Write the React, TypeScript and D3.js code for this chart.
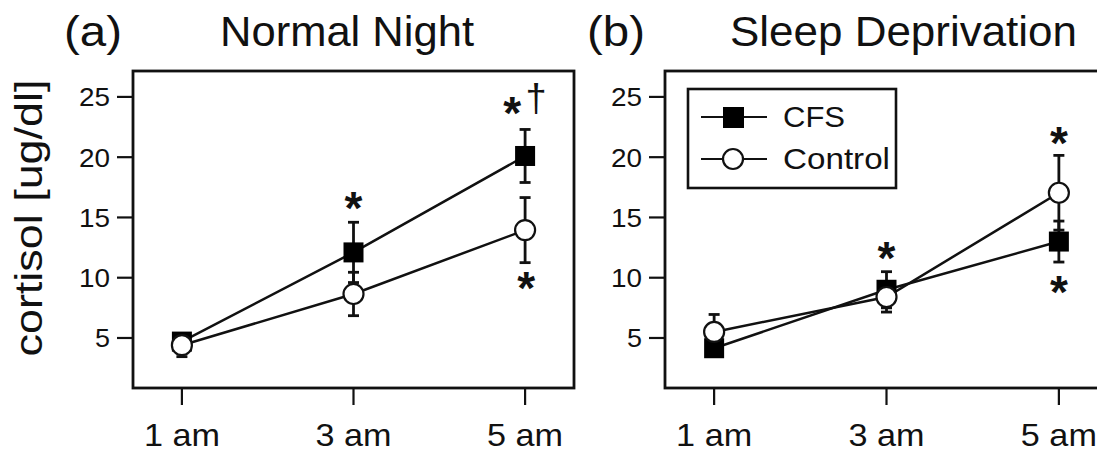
import * as d3 from "d3";
import React from "react";

// values (cortisol, ug/dl)
const hours = [1, 3, 5];
const hourLabels = ["1 am", "3 am", "5 am"];
const yTicks = [5, 10, 15, 20, 25];

const normalCfs = [4.7, 12.1, 20.1];
const normalCfsErr = [0.5, 2.5, 2.2];
const normalCtrl = [4.4, 8.65, 13.95];
const normalCtrlErr = [0.95, 1.8, 2.7];

const sdCfs = [4.15, 9.0, 13.0];
const sdCfsErr = [0.5, 1.5, 1.7];
const sdCtrl = [5.5, 8.4, 17.05];
const sdCtrlErr = [1.45, 1.25, 3.1];

// significance marks: [hour, y value, pixel nudge in x, glyph]
const normalMarks: [number, number, number, string][] = [
  [3, 16.6, 0, "*"],
  [5, 24.5, -13, "*"],
  [5, 24.4, 11, "†"],
  [5, 9.95, 1, "*"],
];
const sdMarks: [number, number, number, string][] = [
  [3, 12.45, 0, "*"],
  [5, 22.0, 0, "*"],
  [5, 9.65, 0, "*"],
];

const W = 1097;
const H = 453;
const top = 71;
const bottom = 388;
const font = "'Liberation Sans', Arial, Helvetica, sans-serif";
const ink = "#111";

const y = d3.scaleLinear().domain([0.85, 27.15]).range([bottom, top]);

type PanelProps = {
  left: number;
  right: number;
  label: string;
  labelX: number;
  title: string;
  titleX: number;
  titleLen: number;
  cfs: number[];
  cfsErr: number[];
  ctrl: number[];
  ctrlErr: number[];
  marks: [number, number, number, string][];
  legend?: boolean;
};

function Panel(p: PanelProps) {
  const x = d3.scaleLinear().domain([0.43, 5.57]).range([p.left, p.right]);
  const line = d3
    .line<number>()
    .x((_, i) => x(hours[i]))
    .y((d) => y(d));

  const errBars = (vals: number[], errs: number[], key: string) =>
    vals.map((v, i) => {
      const cx = x(hours[i]);
      return (
        <g key={key + i} stroke={ink} strokeWidth={2.8}>
          <line x1={cx} x2={cx} y1={y(v - errs[i])} y2={y(v + errs[i])} />
          <line x1={cx - 5.5} x2={cx + 5.5} y1={y(v + errs[i])} y2={y(v + errs[i])} />
          <line x1={cx - 5.5} x2={cx + 5.5} y1={y(v - errs[i])} y2={y(v - errs[i])} />
        </g>
      );
    });

  return (
    <g fontFamily={font} fill={ink}>
      <text x={p.labelX} y={46} fontSize={43} textLength={58} lengthAdjust="spacingAndGlyphs">
        {p.label}
      </text>
      <text x={p.titleX} y={46} fontSize={42} textLength={p.titleLen} lengthAdjust="spacingAndGlyphs">
        {p.title}
      </text>

      <rect
        x={p.left}
        y={top}
        width={p.right - p.left}
        height={bottom - top}
        fill="none"
        stroke={ink}
        strokeWidth={2.8}
      />

      {yTicks.map((t) => (
        <g key={"y" + t}>
          <line x1={p.left - 16} x2={p.left} y1={y(t)} y2={y(t)} stroke={ink} strokeWidth={2.2} />
          <text x={p.left - 23} y={y(t)} dy="0.36em" textAnchor="end" fontSize={26} textLength={t < 10 ? 15 : 31} lengthAdjust="spacingAndGlyphs">
            {t}
          </text>
        </g>
      ))}

      {hours.map((h, i) => (
        <g key={"x" + h}>
          <line x1={x(h)} x2={x(h)} y1={bottom} y2={bottom + 17} stroke={ink} strokeWidth={2.2} />
          <text x={x(h)} y={446} textAnchor="middle" fontSize={32} textLength={76} lengthAdjust="spacingAndGlyphs">
            {hourLabels[i]}
          </text>
        </g>
      ))}

      {errBars(p.cfs, p.cfsErr, "ce")}
      {errBars(p.ctrl, p.ctrlErr, "te")}
      <path d={line(p.cfs)!} fill="none" stroke={ink} strokeWidth={2.5} />
      <path d={line(p.ctrl)!} fill="none" stroke={ink} strokeWidth={2.5} />

      {p.cfs.map((v, i) => (
        <rect key={"s" + i} x={x(hours[i]) - 10} y={y(v) - 10} width={20} height={20} fill="#000" />
      ))}
      {p.ctrl.map((v, i) => (
        <circle key={"c" + i} cx={x(hours[i])} cy={y(v)} r={10} fill="#fff" stroke={ink} strokeWidth={2.2} />
      ))}

      {p.marks.map(([h, v, dx, g], i) =>
        g === "*" ? (
          <text key={"m" + i} x={x(h) + dx} y={y(v) + 26} textAnchor="middle" fontSize={46} fontWeight="bold">
            {g}
          </text>
        ) : (
          <text key={"m" + i} x={x(h) + dx} y={y(v) + 7} textAnchor="middle" fontSize={38}>
            {g}
          </text>
        )
      )}

      {p.legend && (
        <g>
          <rect x={688} y={89} width={208} height={99} fill="#fff" stroke={ink} strokeWidth={2.6} />
          <line x1={701} x2={767} y1={117} y2={117} stroke={ink} strokeWidth={2.2} />
          <rect x={723} y={107} width={21} height={21} fill="#000" />
          <text x={783} y={127} fontSize={29} textLength={62} lengthAdjust="spacingAndGlyphs">
            CFS
          </text>
          <line x1={701} x2={767} y1={159} y2={159} stroke={ink} strokeWidth={2.2} />
          <circle cx={733} cy={159} r={10} fill="#fff" stroke={ink} strokeWidth={2.2} />
          <text x={783} y={169} fontSize={29} textLength={107} lengthAdjust="spacingAndGlyphs">
            Control
          </text>
        </g>
      )}
    </g>
  );
}

export default function App() {
  return (
    <svg
      width={W}
      height={H}
      viewBox={`0 0 ${W} ${H}`}
      style={{ position: "absolute", left: 0, top: 0, display: "block", background: "#fff" }}
    >
      <rect width={W} height={H} fill="#fff" />
      <text
        transform={`translate(42,218) rotate(-90)`}
        textAnchor="middle"
        fontFamily={font}
        fontSize={38}
        fill={ink}
        textLength={277}
        lengthAdjust="spacingAndGlyphs"
      >
        cortisol [ug/dl]
      </text>
      <Panel
        left={133}
        right={574}
        label="(a)"
        labelX={64}
        title="Normal Night"
        titleX={220}
        titleLen={254}
        cfs={normalCfs}
        cfsErr={normalCfsErr}
        ctrl={normalCtrl}
        ctrlErr={normalCtrlErr}
        marks={normalMarks}
      />
      <Panel
        left={665}
        right={1108}
        label="(b)"
        labelX={587}
        title="Sleep Deprivation"
        titleX={730}
        titleLen={347}
        cfs={sdCfs}
        cfsErr={sdCfsErr}
        ctrl={sdCtrl}
        ctrlErr={sdCtrlErr}
        marks={sdMarks}
        legend
      />
    </svg>
  );
}
